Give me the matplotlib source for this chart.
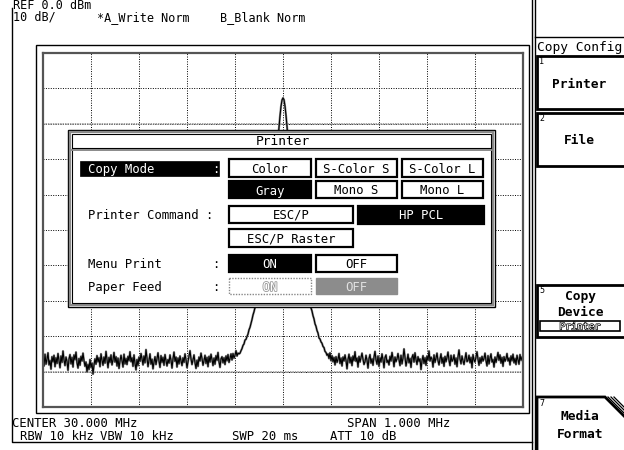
import matplotlib
matplotlib.use('Agg')
import matplotlib.pyplot as plt
from matplotlib.patches import Rectangle, Polygon
import matplotlib.patheffects as pe
import numpy as np

# --- data -----------------------------------------------------------------
center_mhz = 30.0
span_mhz = 1.0
ref_dbm = 0.0
db_per_div = 10

# trace level (dBm), 481 points across the span
noise_left = [
    -86.2, -88.4, -85.1, -87.9, -86.5, -84.7, -88.1, -86.9, -89.3, -85.8, -87.2, -85.4, -88.6, -86.1,
    -87.7, -84.9, -86.8, -88.9, -85.6, -87.4, -84.2, -86.7, -88.3, -85.9, -87.1, -89.6, -86.4, -85.2,
    -87.8, -86.0, -88.7, -85.3, -86.6, -84.5, -87.5, -89.0, -86.3, -88.2, -85.7, -87.0, -84.8, -86.9,
    -88.5, -87.3, -90.1, -88.0, -89.4, -86.6, -88.8, -87.6, -90.7, -88.1, -86.4, -87.9, -85.5, -87.2,
    -86.1, -88.6, -85.0, -86.8, -88.2, -85.9, -87.6, -84.3, -86.5, -88.9, -86.0, -87.4, -85.3, -88.1,
    -86.7, -84.6, -87.3, -85.8, -88.4, -86.2, -89.1, -87.0, -85.4, -86.9, -88.7, -85.1, -87.8, -86.3,
    -88.0, -85.7, -86.9, -84.4, -87.2, -86.1, -88.5, -85.3, -87.7, -89.5, -86.6, -88.3, -85.9, -87.1,
    -84.9, -86.4, -88.1, -85.6, -87.5, -83.8, -86.2, -88.6, -86.8, -85.0, -87.9, -86.5, -89.2, -87.3,
    -85.8, -88.0, -86.3, -84.7, -87.0, -88.8, -85.5, -87.4, -86.0, -88.2, -85.2, -86.9, -88.4, -86.6,
    -87.6, -85.3, -86.8, -89.0, -86.4, -84.5, -87.1, -85.9, -88.7, -86.2, -87.8, -85.6, -86.9, -88.3,
    -86.1, -87.4, -85.0, -86.7, -88.9, -87.2, -85.7, -84.1, -86.4, -88.0, -86.6, -85.3, -87.5, -89.1,
    -86.8, -88.5, -85.9, -87.0, -84.8, -86.3, -88.2, -86.9, -85.4, -87.7, -86.0, -88.6, -85.7, -87.3,
    -85.1, -86.6, -88.3, -86.2, -87.9, -85.5, -86.8, -84.6, -87.2, -88.8, -86.4, -85.8, -87.5, -86.1,
    -88.0, -85.6, -86.9, -85.2, -87.4, -86.3, -85.0, -86.7, -84.9, -86.2, -85.4, -84.1, -85.6, -84.8]
peak = [
    -85.0, -84.8, -84.1, -83.5, -82.6, -82.2, -81.1, -80.9, -80.1, -79.4, -78.2,
    -77.5, -76.4, -75.3, -74.0, -73.1, -71.9, -70.4, -69.2, -68.1, -66.5, -65.3,
    -63.7, -62.3, -60.5, -59.1, -57.3, -55.3, -53.5, -51.6, -49.2, -47.0, -44.8,
    -42.1, -39.5, -36.9, -33.8, -30.6, -27.5, -24.0, -20.8, -17.8, -15.1, -13.3,
    -12.7,
    -13.2, -15.0, -17.6, -20.7, -24.2, -27.3, -30.8, -33.7, -36.7, -39.7, -42.3,
    -44.6, -47.2, -49.4, -51.4, -53.6, -55.5, -57.1, -59.2, -60.7, -62.1, -63.9,
    -65.1, -66.8, -67.9, -69.4, -70.6, -72.0, -72.9, -74.2, -75.1, -76.5, -77.2,
    -78.4, -79.1, -80.5, -80.8, -81.6, -82.0, -82.9, -83.2, -84.3, -84.6, -85.4]
noise_right = [
    -85.0, -86.3, -84.7, -86.9, -85.5, -87.2, -86.0, -88.1, -85.8, -87.4, -86.5, -84.9, -87.7, -86.2,
    -88.4, -85.9, -87.0, -85.3, -86.8, -89.2, -86.6, -85.1, -87.5, -86.0, -88.3, -85.6, -86.9, -84.4,
    -87.1, -86.2, -88.7, -85.7, -87.3, -86.1, -84.8, -86.5, -88.0, -87.2, -85.4, -86.8, -89.0, -86.3,
    -85.2, -87.6, -86.4, -88.2, -85.9, -84.3, -86.7, -87.9, -85.6, -88.5, -86.1, -87.3, -85.0, -86.6,
    -88.9, -86.0, -85.3, -87.4, -86.8, -88.1, -85.7, -87.0, -84.6, -86.3, -88.6, -85.9, -87.2, -86.4,
    -84.9, -86.7, -88.3, -85.4, -87.8, -86.2, -83.6, -86.0, -88.4, -86.9, -85.1, -87.5, -86.3, -88.8,
    -86.0, -85.2, -87.3, -84.7, -86.6, -88.0, -85.8, -87.1, -86.4, -89.4, -86.9, -85.5, -87.7, -86.1,
    -88.2, -85.6, -86.8, -84.2, -87.0, -85.9, -86.5, -88.7, -85.3, -87.4, -86.2, -84.8, -86.9, -88.1,
    -86.4, -85.0, -87.6, -86.1, -88.5, -85.7, -87.2, -86.0, -84.5, -86.8, -88.3, -85.4, -87.1, -86.6,
    -85.3, -87.9, -86.2, -88.6, -85.8, -83.9, -86.4, -87.8, -85.6, -86.9, -88.0, -86.3, -84.7, -87.2,
    -86.8, -85.4, -87.5, -86.0, -88.9, -85.2, -86.7, -87.3, -85.9, -84.4, -86.5, -88.2, -86.1, -87.6,
    -85.7, -87.0, -86.3, -84.8, -86.9, -88.4, -85.5, -87.8, -86.2, -85.0, -87.3, -86.6, -88.7, -85.9,
    -87.4, -86.1, -84.6, -86.8, -85.3, -87.6, -86.0, -88.5, -85.8, -87.1, -86.4, -84.9, -87.0, -86.2,
    -88.1, -85.6, -86.9, -85.1, -87.5, -86.3, -88.0, -85.4, -86.7, -87.9, -85.2, -86.8, -85.9, -87.3]
trace = noise_left + peak + noise_right

header = ["REF 0.0 dBm", "10 dB/", "*A_Write Norm", "B_Blank Norm"]
footer = ["CENTER 30.000 MHz", "SPAN 1.000 MHz",
          "RBW 10 kHz", "VBW 10 kHz", "SWP 20 ms", "ATT 10 dB"]
copy_modes = ["Color", "S-Color S", "S-Color L", "Gray", "Mono S", "Mono L"]
commands = ["ESC/P", "HP PCL", "ESC/P Raster"]

W, H = 624, 450
MONO = 'DejaVu Sans Mono'
FS = 8.8
fig = plt.figure(figsize=(W / 100, H / 100), dpi=100)
fig.patch.set_facecolor('white')

# --- graticule + trace ----------------------------------------------------
g = fig.add_axes([43 / W, 1 - 407 / H, 480 / W, 354 / H], zorder=1)
f0 = center_mhz - span_mhz / 2
freq = np.linspace(f0, f0 + span_mhz, len(trace))
g.set_xlim(f0, f0 + span_mhz)
g.set_ylim(ref_dbm - 10 * db_per_div, ref_dbm)
g.set_xticks(np.linspace(f0, f0 + span_mhz, 11))
g.set_yticks(np.arange(-100, 1, db_per_div))
g.tick_params(length=0, labelbottom=False, labelleft=False)
g.grid(color='black', ls=(0, (1, 1.5)), lw=0.7)
for lv in (-20, -90):
    g.axhline(lv, color='#8a8a8a', ls=(0, (1, 0.6)), lw=1.1)
for sp in g.spines.values():
    sp.set_color('#555555')
    sp.set_linewidth(1.6)
g.plot(freq, trace, color='#8a8a8a', lw=1.6)
g.plot(freq, trace, color='black', lw=0.8)

# --- screen overlay (pixel coordinates) -----------------------------------
ax = fig.add_axes([0, 0, 1, 1], zorder=2)
ax.set_xlim(0, W)
ax.set_ylim(H, 0)
ax.axis('off')


def txt(x, y, s, size=FS, ha='left', color='black', **kw):
    # y is the text baseline, in pixels from the top
    ax.text(x, y, s, family=MONO, fontsize=size, ha=ha, va='baseline',
            color=color, **kw)


def box(x0, y0, x1, y1, fc='white', ec='black', lw=1.6, **kw):
    ax.add_patch(Rectangle((x0, y0), x1 - x0, y1 - y0, fc=fc, ec=ec,
                           lw=lw, **kw))


# outer frames
ax.plot([12, 12, 532], [8, 442, 442], color='black', lw=1)
ax.plot([532, 532], [0, H], color='black', lw=1)
ax.plot([534.5, 534.5], [0, H], color='black', lw=1)
box(36, 45, 529, 413, fc='none', ec='black', lw=1)

# header / footer
txt(13, 8.8, header[0], size=8.5)
txt(13, 21, header[1], size=8.5)
txt(97, 21, header[2], size=8.5)
txt(220, 21, header[3], size=8.5)
txt(12, 427, footer[0])
txt(347, 427, footer[1])
txt(20, 440.5, footer[2])
txt(100, 440.5, footer[3])
txt(232, 440.5, footer[4])
txt(330, 440.5, footer[5])

# soft keys
ax.plot([534.5, W], [37, 37], color='black', lw=1)
txt(537, 51, "Copy Config", size=9.3)
box(537, 56, 626, 109, lw=2)
txt(539, 64, "1", size=6)
txt(579, 88, "Printer", ha='center', size=9.3, weight='bold')
box(537, 113, 626, 166, lw=2)
txt(539, 121, "2", size=6)
txt(579, 144, "File", ha='center', size=9.3, weight='bold')
box(537, 285, 626, 337, lw=2)
txt(539, 293, "5", size=6)
txt(580, 300, "Copy", ha='center', size=9.3, weight='bold')
txt(580, 316, "Device", ha='center', size=9.3, weight='bold')
box(540, 321, 620, 331, lw=1.2)
txt(580, 329.5, "Printer", ha='center', size=7, color='white',
    path_effects=[pe.withStroke(linewidth=1.0, foreground='black')])
ax.add_patch(Polygon([(537, 452), (537, 397), (605, 397), (626, 418),
                      (626, 452)], closed=True, fc='white', ec='black', lw=2))
for k in (3, 6, 9):
    ax.plot([605 + k, 626], [397, 418 - k], color='black', lw=0.9)
txt(539, 406, "7", size=6)
txt(580, 420, "Media", ha='center', size=9.3, weight='bold')
txt(580, 438, "Format", ha='center', size=9.3, weight='bold')

# dialog
box(68, 130, 495, 307, fc='white', ec='black', lw=1)
box(70, 132, 493, 305, fc='none', ec='#8a8a8a', lw=1.6)
box(72, 134, 491, 303, fc='none', ec='black', lw=0.8)
ax.plot([72, 491], [148, 148], color='black', lw=0.8)
ax.plot([72, 491], [150, 150], color='#8a8a8a', lw=1.4)
txt(283, 145, "Printer", ha='center', size=9.3)

box(80, 161, 219, 176, fc='black', ec='black', lw=0.5)
txt(88, 173, "Copy Mode", color='white')
txt(212, 173, ":", color='white')
txt(88, 219, "Printer Command :")
txt(88, 268, "Menu Print")
txt(212, 268, ":")
txt(88, 291, "Paper Feed")
txt(212, 291, ":")

cols = [(229, 311), (316, 397), (402, 483)]
rows = [(159, 177, 173), (181, 198, 194.5)]
for i, label in enumerate(copy_modes):
    (x0, x1), (y0, y1, yb) = cols[i % 3], rows[i // 3]
    dark = label == "Gray"
    box(x0, y0, x1, y1, fc='black' if dark else 'white')
    txt((x0 + x1) / 2, yb, label, ha='center',
        color='white' if dark else 'black')

cmd_boxes = [(229, 206, 353, 223, 219), (358, 206, 484, 224, 219),
             (229, 229, 353, 247, 242)]
for label, (x0, y0, x1, y1, yb) in zip(commands, cmd_boxes):
    dark = label == "HP PCL"
    box(x0, y0, x1, y1, fc='black' if dark else 'white')
    txt((x0 + x1) / 2, yb, label, ha='center',
        color='white' if dark else 'black')

box(229, 255, 311, 272, fc='black')
txt(270, 267.5, "ON", ha='center', color='white')
box(316, 255, 397, 272)
txt(356.5, 267.5, "OFF", ha='center')

box(229, 278, 311, 294, ec='#888888', lw=1, ls=(0, (1, 1)))
txt(270, 291, "ON", ha='center', color='white',
    path_effects=[pe.withStroke(linewidth=1.2, foreground='#999999')])
box(316, 278, 397, 294, fc='#8c8c8c', ec='#8c8c8c', lw=1, hatch='....')
txt(356.5, 291, "OFF", ha='center', color='#e0e0e0')

fig.savefig('out.png', dpi=100, facecolor='white')
